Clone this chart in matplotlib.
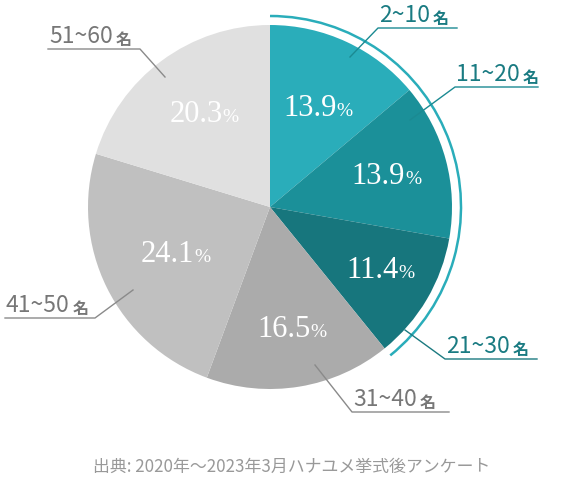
import numpy as np
import matplotlib.pyplot as plt
from matplotlib.patches import Arc

# data
groups = ["2~10", "11~20", "21~30", "31~40", "41~50", "51~60"]
shares = [13.9, 13.9, 11.4, 16.5, 24.1, 20.3]
colors = ["#2aadba", "#1b9099", "#17767d", "#ababab", "#c0c0c0", "#e0e0e0"]
source = "出典: 2020年～2023年3月ハナユメ挙式後アンケート"

W, H = 588, 480


def px(x, y):
    # pixel coords (y down) -> data coords (y up)
    return x, H - y


fig = plt.figure(figsize=(W / 100, H / 100), dpi=100)
ax = fig.add_axes([0, 0, 1, 1])

cx, cy = px(270, 207)
R = 182
wedges, _ = ax.pie(shares, colors=colors, startangle=90, counterclock=False,
                   center=(cx, cy), radius=R,
                   wedgeprops=dict(linewidth=0))
ax.set_xlim(0, W)
ax.set_ylim(0, H)
ax.axis("off")

# outer arc around the teal slices
arc = Arc((cx, cy), 2 * 191, 2 * 191, theta1=wedges[2].theta1,
          theta2=wedges[0].theta2, color="#2aadba", lw=1.8)
ax.add_patch(arc)

# percentage labels
pct_dist = [0.60, 0.65, 0.69, 0.68, 0.59, 0.63]
serif = "Liberation Serif"
for w, v, d in zip(wedges, shares, pct_dist):
    ang = np.deg2rad((w.theta1 + w.theta2) / 2)
    x = cx + d * R * np.cos(ang) - 6
    y = cy + d * R * np.sin(ang)
    t = ax.text(x, y, f"{v:.1f}", color="white", fontsize=22, family=serif,
                ha="center", va="center")
    ax.annotate("%", xy=(1, 0.1), xycoords=t, color="white", fontsize=14,
                family=serif, ha="left", va="bottom")

# category labels: (leader start, elbow, underline end) in pixels
teal_txt = "#1a7b82"
gray_txt = "#777777"
label_layout = [
    ((350, 57), (378, 28), (457, 28), teal_txt, "#1b8a92"),
    ((410, 120), (455, 87), (538, 87), teal_txt, "#1b8a92"),
    ((405, 330), (445, 359), (537, 359), teal_txt, "#1b7a80"),
    ((315, 365), (352, 412), (449, 412), gray_txt, "#8a8a8a"),
    ((133, 290), (95, 318), (5, 318), gray_txt, "#8a8a8a"),
    ((165, 77), (140, 49), (48, 49), gray_txt, "#8a8a8a"),
]
cjk = ["Noto Sans CJK JP", "DejaVu Sans"]
for g, (p0, p1, p2, tc, lc) in zip(groups, label_layout):
    xs, ys = zip(px(*p0), px(*p1), px(*p2))
    ax.plot(xs, ys, color=lc, lw=1)
    x0 = min(p1[0], p2[0]) + 1
    tx, ty = px(x0, p1[1] - 6)
    t = ax.text(tx, ty, g, color=tc, fontsize=16.5, family=cjk,
                ha="left", va="baseline")
    ax.annotate("名", xy=(1, 0), xycoords=t, xytext=(2, 0),
                textcoords="offset points", color=tc, fontsize=11.5,
                family=cjk, weight="bold", ha="left", va="bottom")

# source note
sx, sy = px(292, 467)
ax.text(sx, sy, source, color="#999999", fontsize=12.2, family=cjk,
        ha="center", va="center")

fig.savefig("out.png", dpi=100)
